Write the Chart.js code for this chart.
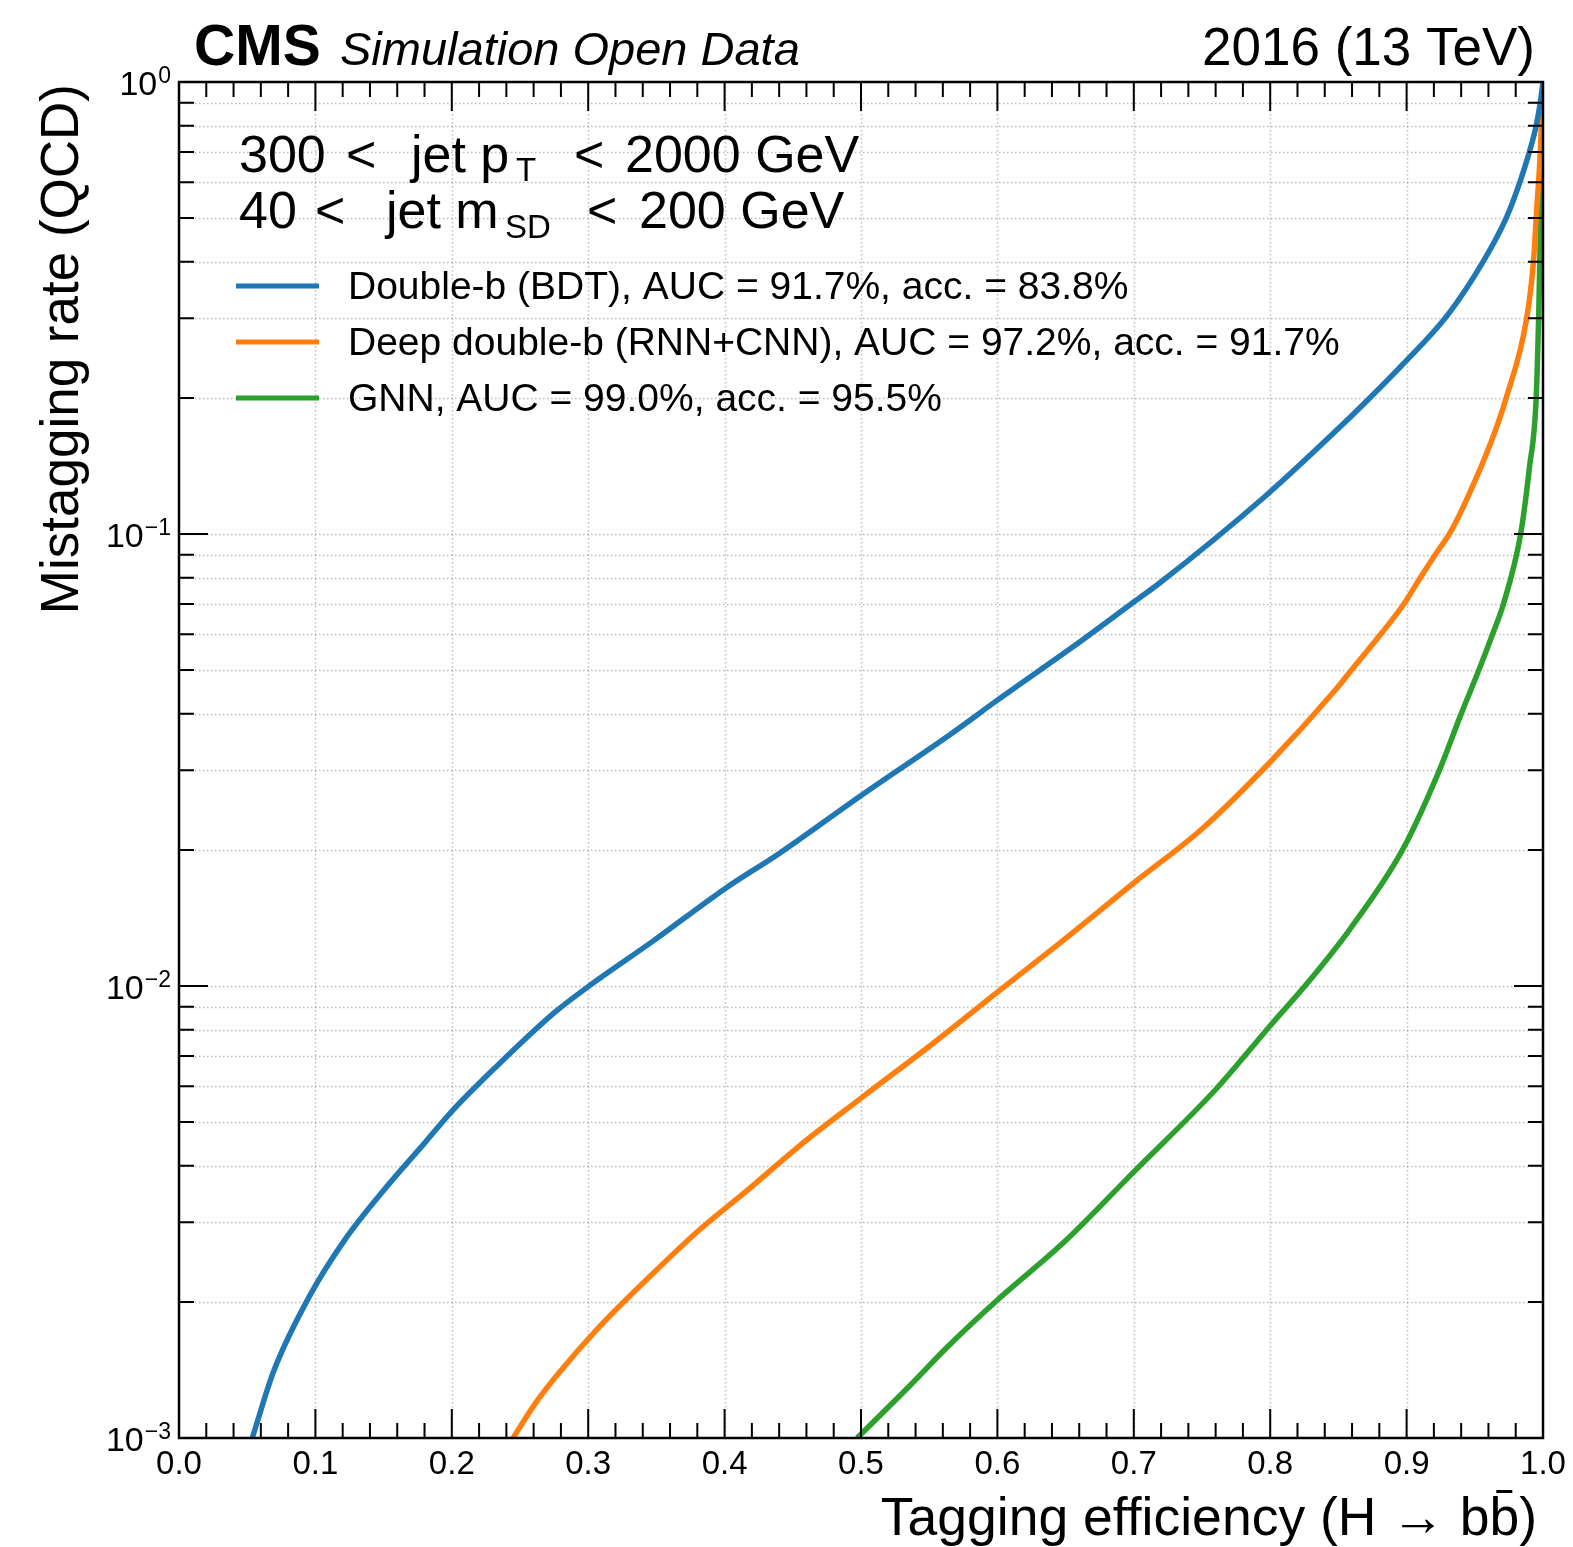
<!DOCTYPE html>
<html>
<head>
<meta charset="utf-8">
<script src="https://cdn.jsdelivr.net/npm/chart.js@4.4.0/dist/chart.umd.min.js"></script>
<style>
  html, body { margin: 0; padding: 0; background: #fff; }
  canvas { display: block; }
</style>
</head>
<body>
<canvas id="roc" width="1573" height="1547"></canvas>
<script>
const FONT = '"Liberation Sans", Arial, Helvetica, sans-serif';

const seriesLabels = [
  'Double-b (BDT), AUC = 91.7%, acc. = 83.8%',
  'Deep double-b (RNN+CNN), AUC = 97.2%, acc. = 91.7%',
  'GNN, AUC = 99.0%, acc. = 95.5%'
];
const seriesColors = ['#1f77b4', '#ff7f0e', '#2ca02c'];

// tagging efficiency (H->bb) vs mistagging rate (QCD)
const bdtEff = [0.0537, 0.0696, 0.0957, 0.1218, 0.1507, 0.1797, 0.2000, 0.2319, 0.2754, 0.3000,
  0.3480, 0.4000, 0.4406, 0.5001, 0.5675, 0.6000, 0.6631, 0.7000, 0.7180, 0.7974,
  0.8463, 0.8730, 0.8970, 0.9300, 0.9560, 0.9730, 0.9830, 0.9900, 0.9950, 0.9980, 1.0000];
const bdtMistag = [0.00100, 0.00141, 0.00206, 0.00275, 0.00355, 0.00448, 0.00528, 0.00660, 0.00874, 0.00997,
  0.0126, 0.0164, 0.0197, 0.0264, 0.0364, 0.0429, 0.0585, 0.0707, 0.0775, 0.122,
  0.167, 0.200, 0.237, 0.305, 0.400, 0.500, 0.600, 0.700, 0.800, 0.900, 1.000];

const ddbEff = [0.2449, 0.2610, 0.2783, 0.3073, 0.3421, 0.3800, 0.4175, 0.4545, 0.5001, 0.5530,
  0.6000, 0.6480, 0.7000, 0.7510, 0.8000, 0.8465, 0.8630, 0.8810, 0.8980, 0.9100,
  0.9210, 0.9330, 0.9450, 0.9620, 0.9730, 0.9880, 0.9930, 0.9950, 0.9980, 1.0000];
const ddbMistag = [0.00100, 0.00119, 0.00139, 0.00175, 0.00223, 0.00286, 0.00355, 0.00442, 0.00565, 0.00747,
  0.00969, 0.0126, 0.0169, 0.0224, 0.0313, 0.0447, 0.0515, 0.0600, 0.0700, 0.0800,
  0.0900, 0.102, 0.121, 0.160, 0.200, 0.300, 0.400, 0.500, 0.700, 1.000];

const gnnEff = [0.4971, 0.5363, 0.5624, 0.6000, 0.6493, 0.7000, 0.7595, 0.8000, 0.8290, 0.8580,
  0.8970, 0.9240, 0.9400, 0.9530, 0.9630, 0.9710, 0.9836, 0.9900, 0.9950, 0.9970, 0.9985, 1.0000];
const gnnMistag = [0.00100, 0.00131, 0.00158, 0.00202, 0.00272, 0.00388, 0.00588, 0.00817, 0.0103, 0.0133,
  0.0200, 0.0300, 0.0400, 0.0500, 0.0600, 0.0700, 0.100, 0.140, 0.200, 0.320, 0.550, 1.000];

const xTickLabels = ['0.0', '0.1', '0.2', '0.3', '0.4', '0.5', '0.6', '0.7', '0.8', '0.9', '1.0'];
const yTickExponents = [-3, -2, -1, 0];

function toPoints(xs, ys) {
  return xs.map((x, i) => ({ x: x, y: ys[i] }));
}

function drawPieces(ctx, pieces, baseline, size, subSize, subDrop) {
  pieces.forEach(p => {
    ctx.font = (p.sub ? subSize : size) + 'px ' + FONT;
    ctx.fillText(p.t, p.x, baseline + (p.sub ? subDrop : 0));
  });
}

const cmsPlot = {
  id: 'cmsPlot',
  beforeDatasetsDraw(chart) {
    const ctx = chart.ctx, a = chart.chartArea;
    const xs = chart.scales.x, ys = chart.scales.y;
    ctx.save();
    ctx.strokeStyle = 'rgba(0,0,0,0.26)';
    ctx.lineWidth = 1.5;
    ctx.setLineDash([1.5, 2.5]);
    for (let i = 1; i < 10; i++) {
      const px = Math.round(xs.getPixelForValue(i / 10)) + 0.5;
      ctx.beginPath(); ctx.moveTo(px, a.top); ctx.lineTo(px, a.bottom); ctx.stroke();
    }
    for (let d = -3; d < 0; d++) {
      for (let m = 1; m < 10; m++) {
        if (d === -3 && m === 1) continue;
        const py = Math.round(ys.getPixelForValue(m * Math.pow(10, d))) + 0.5;
        ctx.beginPath(); ctx.moveTo(a.left, py); ctx.lineTo(a.right, py); ctx.stroke();
      }
    }
    ctx.restore();
  },
  afterDatasetsDraw(chart) {
    const ctx = chart.ctx, a = chart.chartArea;
    const xs = chart.scales.x, ys = chart.scales.y;
    ctx.save();
    ctx.strokeStyle = '#000';
    ctx.fillStyle = '#000';

    // ticks, inward on all four sides
    ctx.lineWidth = 2;
    for (let i = 0; i <= 50; i++) {
      const px = xs.getPixelForValue(i / 50);
      const len = i % 5 === 0 ? 29 : 15;
      ctx.beginPath();
      ctx.moveTo(px, a.bottom); ctx.lineTo(px, a.bottom - len);
      ctx.moveTo(px, a.top); ctx.lineTo(px, a.top + len);
      ctx.stroke();
    }
    for (let d = -3; d <= 0; d++) {
      for (let m = 1; m < 10; m++) {
        const v = m * Math.pow(10, d);
        if (v > 1) break;
        const py = ys.getPixelForValue(v);
        const len = m === 1 ? 29 : 15;
        ctx.beginPath();
        ctx.moveTo(a.left, py); ctx.lineTo(a.left + len, py);
        ctx.moveTo(a.right, py); ctx.lineTo(a.right - len, py);
        ctx.stroke();
      }
    }
    ctx.lineWidth = 2.5;
    ctx.strokeRect(a.left, a.top, a.right - a.left, a.bottom - a.top);

    // x tick labels
    ctx.font = '33px ' + FONT;
    ctx.textAlign = 'center';
    ctx.textBaseline = 'alphabetic';
    xTickLabels.forEach((t, i) => {
      ctx.fillText(t, xs.getPixelForValue(i / 10), a.bottom + 36);
    });

    // y tick labels as 10^n
    ctx.textAlign = 'left';
    yTickExponents.forEach(e => {
      const py = ys.getPixelForValue(Math.pow(10, e));
      const exp = e < 0 ? '\u2212' + (-e) : String(e);
      ctx.font = '34px ' + FONT;
      const w10 = ctx.measureText('10').width;
      ctx.font = '23px ' + FONT;
      const wExp = ctx.measureText(exp).width;
      const x0 = a.left - 9 - w10 - wExp;
      ctx.font = '34px ' + FONT;
      ctx.fillText('10', x0, py + 13);
      ctx.font = '23px ' + FONT;
      ctx.fillText(exp, x0 + w10 + 1, py + 1);
    });

    // header
    ctx.font = 'bold 57px ' + FONT;
    ctx.fillText('CMS', 194, 65);
    ctx.font = 'italic 47px ' + FONT;
    ctx.fillText('Simulation Open Data', 340, 65);
    ctx.textAlign = 'right';
    ctx.font = '53px ' + FONT;
    ctx.fillText('2016 (13 TeV)', 1535, 65);

    // axis titles
    ctx.font = '53.5px ' + FONT;
    const xTitle = 'Tagging efficiency (H \u2192 bb)';
    const xEnd = 1537, xBase = 1535;
    ctx.fillText(xTitle, xEnd, xBase);
    const wParen = ctx.measureText(')').width;
    const wB = ctx.measureText('b').width;
    const bMid = xEnd - wParen - wB / 2;
    ctx.fillRect(bMid - 8, xBase - 45, 16, 3);

    ctx.font = '53px ' + FONT;
    ctx.save();
    ctx.translate(78, 84);
    ctx.rotate(-Math.PI / 2);
    ctx.textAlign = 'right';
    ctx.fillText('Mistagging rate (QCD)', 0, 0);
    ctx.restore();

    // selection text
    ctx.textAlign = 'left';
    drawPieces(ctx, [
      { t: '300', x: 239 }, { t: '<', x: 346 }, { t: 'jet p', x: 411 },
      { t: 'T', x: 516, sub: true }, { t: '<', x: 574 }, { t: '2000 GeV', x: 625 }
    ], 172, 52, 33, 9);
    drawPieces(ctx, [
      { t: '40', x: 239 }, { t: '<', x: 315 }, { t: 'jet m', x: 386 },
      { t: 'SD', x: 505, sub: true }, { t: '<', x: 587 }, { t: '200 GeV', x: 639 }
    ], 228, 52, 33, 10);

    // legend
    const legendY = [286, 342, 398];
    chart.data.datasets.forEach((ds, i) => {
      ctx.strokeStyle = ds.borderColor;
      ctx.lineWidth = 5;
      ctx.beginPath();
      ctx.moveTo(236, legendY[i]); ctx.lineTo(319, legendY[i]);
      ctx.stroke();
      ctx.fillStyle = '#000';
      ctx.font = '39px ' + FONT;
      ctx.fillText(ds.label, 348, legendY[i] + 13);
    });
    ctx.restore();
  }
};

const datasets = [
  [bdtEff, bdtMistag],
  [ddbEff, ddbMistag],
  [gnnEff, gnnMistag]
].map((s, i) => ({
  label: seriesLabels[i],
  data: toPoints(s[0], s[1]),
  showLine: true,
  borderColor: seriesColors[i],
  borderWidth: 5.5,
  pointRadius: 0,
  cubicInterpolationMode: 'monotone',
  fill: false
}));

new Chart(document.getElementById('roc'), {
  type: 'scatter',
  data: { datasets: datasets },
  options: {
    responsive: false,
    animation: false,
    devicePixelRatio: 1,
    layout: { padding: { left: 179, top: 82, right: 30, bottom: 109 } },
    scales: {
      x: { type: 'linear', min: 0, max: 1, display: false },
      y: { type: 'logarithmic', min: 0.001, max: 1, display: false }
    },
    plugins: { legend: { display: false }, tooltip: { enabled: false } }
  },
  plugins: [cmsPlot]
});
</script>
</body>
</html>
